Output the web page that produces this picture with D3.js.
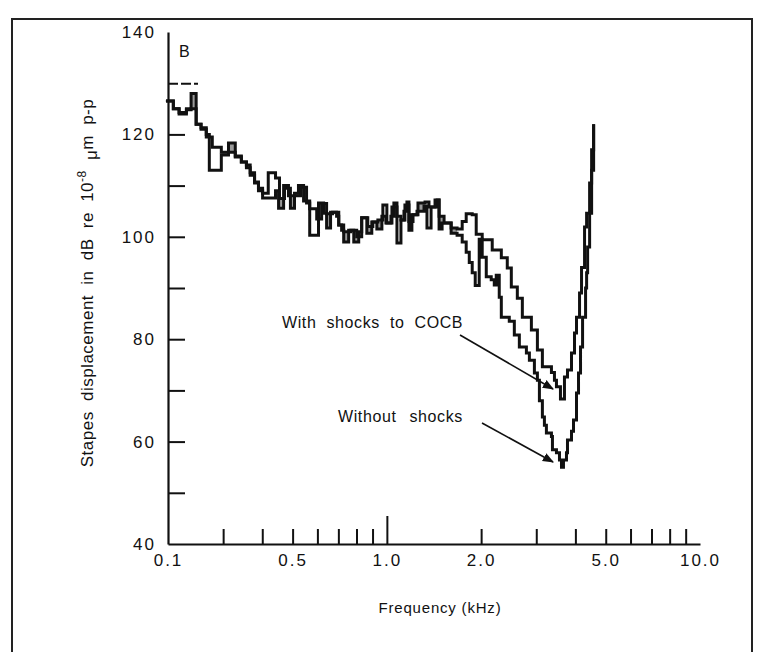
<!DOCTYPE html>
<html><head><meta charset="utf-8">
<script src="https://cdn.jsdelivr.net/npm/d3@7"></script>
<style>body{margin:0;background:#fff} svg{display:block}</style>
</head><body><svg id="c" width="762" height="652"></svg>
<script>
// ---- data (frequency in kHz, displacement in dB) ----
const withFreq = [0.197,0.208,0.217,0.229,0.237,0.246,0.255,0.265,0.277,0.296,0.312,0.328,0.343,0.356,0.366,0.378,0.389,0.401,0.418,0.441,0.454,0.471,0.485,0.507,0.522,0.542,0.567,0.597,0.619,0.642,0.671,0.702,0.728,0.767,0.801,0.831,0.869,0.902,0.936,0.971,1.0,1.038,1.077,1.109,1.142,1.176,1.212,1.257,1.324,1.363,1.425,1.468,1.523,1.604,1.676,1.740,1.792,1.873,1.929,2.016,2.170,2.320,2.424,2.497,2.610,2.708,2.894,3.025,3.138,3.354,3.429,3.480,3.584,3.691,3.774,3.887,3.974,4.033,4.124,4.185,4.279,4.344,4.441,4.507,4.574];
const withDb = [126.5,125,124.3,125,128,122,121.3,119.5,117.5,116.5,118.3,115.8,114.6,114,112.5,110.7,109.5,108.5,112.5,111.5,107.5,110,108,108.5,110,107,105.5,103.5,106.5,104.5,104.8,102.3,101,101.3,100,103.7,102,102.9,103.3,106.2,102.7,105.8,104,103.3,106.2,103,104.3,106.6,106.8,105.8,107.2,104,102.7,101.7,101.5,103,104.5,104.3,100.5,99.4,97.4,95.9,93.9,90.2,88,84.3,81.8,77.9,74.6,73.5,72,70.7,68.3,72.6,74,77.3,81.2,84.3,89,94,101.9,104.6,110.5,117,122];

const withoutFreq = [0.197,0.208,0.217,0.229,0.237,0.246,0.255,0.265,0.271,0.296,0.312,0.328,0.343,0.356,0.366,0.378,0.389,0.401,0.418,0.441,0.451,0.468,0.478,0.492,0.507,0.530,0.554,0.567,0.605,0.628,0.642,0.661,0.691,0.702,0.717,0.728,0.755,0.784,0.813,0.831,0.863,0.895,0.929,0.964,0.993,1.030,1.053,1.077,1.109,1.134,1.159,1.176,1.202,1.248,1.314,1.343,1.384,1.447,1.468,1.501,1.580,1.604,1.676,1.740,1.792,1.833,1.873,1.915,1.972,2.016,2.077,2.154,2.203,2.235,2.285,2.320,2.460,2.553,2.649,2.790,2.852,2.959,3.025,3.070,3.138,3.185,3.232,3.354,3.379,3.480,3.558,3.611,3.664,3.746,3.774,3.887,3.945,4.033,4.093,4.154,4.217,4.311,4.344,4.376,4.441,4.507,4.574];
const withoutDb = [126.5,125,124,124.8,125,122,121,120,113,116,116.5,115.6,114.6,113.5,112,110.5,109,107.6,107.6,109,105.6,110,109.5,105.6,108,109.7,106.6,100.3,106.6,104.6,101.7,104.8,104,102.3,101.3,99,101.3,99,101,103.7,100.7,102.9,101.5,104,102.7,104,106.6,98.8,103.3,105,106.8,101.3,104.3,105,106,101.7,105.8,107.2,101.5,102.7,102.7,100.7,100.3,99,97,95,93,90.5,99.5,96,92.2,91.6,90.6,92.5,88.2,84.3,83.5,80.8,78.5,77.3,75.9,73.4,72,68,64.8,63.2,61.7,61,58.4,57.8,56.4,55,56.4,57.8,60.3,62,64.2,69.5,73.4,78.5,84.3,90,93,98,104.6,113,122];

const xTickValues = [0.2,0.3,0.4,0.5,0.6,0.7,0.8,0.9,1,2,3,4,5,6,7,8,9,10];
const xLabelValues = [0.2,0.5,1,2,5,10];
const xLabelText = ["0.1","0.5","1.0","2.0","5.0","10.0"];
const yTickValues = [40,50,60,70,80,90,100,110,120,130,140];
const yLabelValues = [40,60,80,100,120,140];

const svg = d3.select("#c");
const FONT = "'Liberation Sans', Arial, sans-serif";

// frame
svg.append("rect").attr("x",12).attr("y",19).attr("width",740).attr("height",660)
  .attr("fill","none").attr("stroke","#222").attr("stroke-width",2);

const x = d3.scaleLog().domain([0.2,10]).range([168,700]);
const y = d3.scaleLinear().domain([40,140]).range([544,32]);

// shaded band between the two records where they run close together
const stepVal = (fs, vs, f) => { let i = d3.bisectRight(fs, f) - 1; return i < 0 ? null : vs[i]; };
const allF = Array.from(new Set(withFreq.concat(withoutFreq))).sort((a,b)=>a-b);
const band = allF.map(f => [f, stepVal(withFreq, withDb, f), stepVal(withoutFreq, withoutDb, f)]);
const area = d3.area().x(d => x(d[0])).y0(d => y(d[1])).y1(d => y(d[2]))
  .defined(d => d[1] !== null && d[2] !== null && Math.abs(d[1]-d[2]) <= 3.2 && d[0] < 4.0)
  .curve(d3.curveStepAfter);
svg.append("path").datum(band).attr("d", area).attr("fill","#9a9a9a");

// y axis
const yAxis = svg.append("g").attr("transform","translate(168,0)")
  .call(d3.axisLeft(y).tickValues(yTickValues).tickSizeInner(-17).tickSizeOuter(0).tickPadding(12)
     .tickFormat(d => yLabelValues.includes(d) ? d : ""));
// x axis
const xAxis = svg.append("g").attr("transform","translate(0,544)")
  .call(d3.axisBottom(x).tickValues(xTickValues).tickSizeInner(-15).tickSizeOuter(0).tickPadding(10)
     .tickFormat(d => { const i = xLabelValues.indexOf(d); return i >= 0 ? xLabelText[i] : ""; }));

[yAxis, xAxis].forEach(g => {
  g.select(".domain").attr("stroke","#111").attr("stroke-width",2.2);
  g.selectAll(".tick line").attr("stroke","#111").attr("stroke-width",2);
  g.selectAll(".tick text").attr("fill","#111").style("font-family",FONT)
    .style("font-size","17px").style("letter-spacing","2px");
});
xAxis.selectAll(".tick line").attr("y2", d => d === 1 ? -28 : (d === 0.2 || d === 10 ? 0 : -15));
yAxis.selectAll(".tick line").filter(d => d === 130)
  .attr("x2", 30).attr("stroke-dasharray","10,3");
yAxis.selectAll(".tick line").filter(d => d === 40 || d === 140).attr("x2", 0);

// curves
const line = d3.line().x(d => x(d[0])).y(d => y(d[1])).curve(d3.curveStepAfter);
const withPts = withFreq.map((f,i) => [f, withDb[i]]);
const withoutPts = withoutFreq.map((f,i) => [f, withoutDb[i]]);
[withoutPts, withPts].forEach(p => {
  svg.append("path").datum(p).attr("d", line).attr("fill","none")
    .attr("stroke","#111").attr("stroke-width",3).attr("stroke-linejoin","miter");
});

// labels
const txt = (t, xx, yy, size, extra) => {
  const e = svg.append("text").attr("x",xx).attr("y",yy).attr("fill","#111")
    .style("font-family",FONT).style("font-size",size+"px").text(t);
  if (extra) extra(e);
  return e;
};
txt("B", 179, 57, 16);
txt("With shocks to COCB", 282, 328, 16, e => e.style("word-spacing","5px").style("letter-spacing","0.6px"));
txt("Without shocks", 338, 422, 16, e => e.style("word-spacing","8px").style("letter-spacing","0.6px"));
txt("Frequency (kHz)", 440, 613, 15, e => e.attr("text-anchor","middle").style("letter-spacing","0.8px"));

// y title
const yt = svg.append("text").attr("transform","translate(93,283) rotate(-90)")
  .attr("text-anchor","middle").attr("fill","#111").style("font-family",FONT).style("font-size","17px")
  .style("word-spacing","5px").style("letter-spacing","0.5px");
yt.append("tspan").text("Stapes  displacement in dB re 10");
yt.append("tspan").attr("dy",-7).style("font-size","12px").text("-8");
yt.append("tspan").attr("dy",11).text(" μ");
yt.append("tspan").attr("dy",-4).text("m p-p");

// arrows
svg.append("defs").append("marker").attr("id","ah").attr("viewBox","0 0 10 10")
  .attr("refX",9).attr("refY",5).attr("markerWidth",7).attr("markerHeight",7).attr("orient","auto")
  .append("path").attr("d","M0,1 L10,5 L0,9 Z").attr("fill","#111");
[[460,335,553,389],[482,423,553,462]].forEach(a => {
  svg.append("line").attr("x1",a[0]).attr("y1",a[1]).attr("x2",a[2]).attr("y2",a[3])
    .attr("stroke","#111").attr("stroke-width",1.6).attr("marker-end","url(#ah)");
});
</script></body></html>
